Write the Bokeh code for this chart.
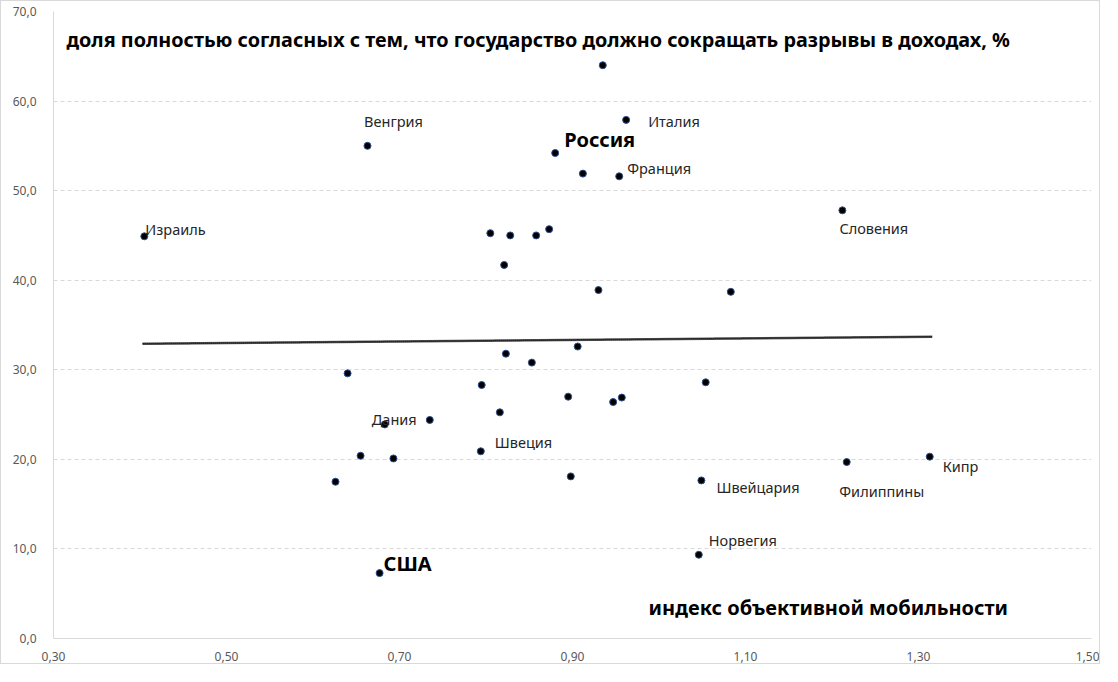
from bokeh.plotting import figure
from bokeh.models import ColumnDataSource, FixedTicker, Label, Range1d
from bokeh.core.properties import value
from bokeh.embed import file_html
from bokeh.resources import INLINE

# ---------------- data ----------------
mobility = [0.405, 0.663, 0.935, 0.962, 0.880, 0.912, 0.954, 1.212,
            0.805, 0.828, 0.858, 0.873, 0.821, 0.930, 1.083, 0.823,
            0.853, 0.906, 0.795, 1.054, 0.895, 0.947, 0.957, 0.816,
            0.735, 0.640, 0.683, 0.655, 0.693, 0.794, 0.626, 0.677,
            0.898, 1.049, 1.217, 1.313, 1.046]
agree = [44.9, 55.0, 64.0, 57.9, 54.2, 51.9, 51.6, 47.8,
         45.25, 45.0, 45.0, 45.7, 41.7, 38.9, 38.7, 31.8,
         30.8, 32.6, 28.3, 28.6, 27.0, 26.4, 26.9, 25.25,
         24.4, 29.6, 23.9, 20.4, 20.1, 20.9, 17.5, 7.3,
         18.1, 17.65, 19.7, 20.3, 9.35]
country = ["Израиль", "Венгрия", "", "Италия", "Россия", "", "Франция", "Словения",
           "", "", "", "", "", "", "", "",
           "", "", "", "", "", "", "", "",
           "", "", "Дания", "", "", "Швеция", "", "США",
           "", "Швейцария", "Филиппины", "Кипр", "Норвегия"]

trend_x = [0.403, 1.316]
trend_y = [32.9, 33.7]

x_ticks = [0.30, 0.50, 0.70, 0.90, 1.10, 1.30, 1.50]
x_tick_labels = ["0,30", "0,50", "0,70", "0,90", "1,10", "1,30", "1,50"]
y_ticks = [0, 10, 20, 30, 40, 50, 60, 70]
y_tick_labels = ["0,0", "10,0", "20,0", "30,0", "40,0", "50,0", "60,0", "70,0"]

title_text = "доля полностью согласных с тем, что государство должно сокращать разрывы в доходах, %"
xaxis_text = "индекс объективной мобильности"

# ---------------- label styling (offsets in px) ----------------
label_style = {
    "Израиль":   dict(dx=1,  dy=-7,  align="left",   bold=False),
    "Венгрия":   dict(dx=26, dy=-25, align="center", bold=False),
    "Россия":    dict(dx=9,  dy=-14, align="left",   bold=True),
    "Италия":    dict(dx=22, dy=1,   align="left",   bold=False),
    "Франция":   dict(dx=8,  dy=-8,  align="left",   bold=False),
    "Словения":  dict(dx=-3, dy=18,  align="left",   bold=False),
    "Дания":     dict(dx=-13, dy=-5, align="left",   bold=False),
    "Швеция":    dict(dx=14, dy=-9,  align="left",   bold=False),
    "США":       dict(dx=4,  dy=-10, align="left",   bold=True),
    "Швейцария": dict(dx=15, dy=7,   align="left",   bold=False),
    "Филиппины": dict(dx=35, dy=29,  align="center", bold=False),
    "Кипр":      dict(dx=13, dy=9,   align="left",   bold=False),
    "Норвегия":  dict(dx=10, dy=-15, align="left",   bold=False),
}

FONT = "Noto Sans"

p = figure(width=1100, height=664, output_backend="svg", toolbar_location=None,
           x_range=Range1d(0.30, 1.50), y_range=Range1d(0, 70),
           min_border_left=52, min_border_right=10, min_border_top=10,
           min_border_bottom=27)
p.styles = {"border": "1px solid #d9d9d9"}
p.outline_line_color = None
p.background_fill_color = "white"
p.border_fill_color = "white"

# grid
p.xgrid.visible = False
p.ygrid.grid_line_color = "#d9d9d9"
p.ygrid.grid_line_dash = "4 3"
p.ygrid.ticker = FixedTicker(ticks=y_ticks)

# axes
for ax in (p.xaxis, p.yaxis):
    ax.axis_line_color = "#d9d9d9"
    ax.axis_line_width = 1
    ax.major_tick_line_color = None
    ax.minor_tick_line_color = None
    ax.major_label_text_color = "#595959"
    ax.major_label_text_font = FONT
    ax.major_label_text_font_size = "12px"
p.xaxis.ticker = FixedTicker(ticks=x_ticks)
p.xaxis.major_label_overrides = {t: l for t, l in zip(x_ticks, x_tick_labels)}
p.yaxis.ticker = FixedTicker(ticks=y_ticks)
p.yaxis.major_label_overrides = {t: l for t, l in zip(y_ticks, y_tick_labels)}
p.xaxis.major_label_standoff = 7
p.yaxis.major_label_standoff = 11

# trend line
p.line(trend_x, trend_y, line_color="#595959", line_width=2.5)
p.line(trend_x, trend_y, line_color="black", line_width=1.5, line_dash="1 1")

# points
src = ColumnDataSource(dict(x=mobility, y=agree))
p.scatter("x", "y", source=src, size=7, fill_color="black", line_color="#2f4f8f",
          line_width=1)

# country labels
for name, xv, yv in zip(country, mobility, agree):
    if not name:
        continue
    st = label_style[name]
    p.text([xv], [yv], text=[name], x_offset=st["dx"], y_offset=st["dy"],
           text_align=st["align"], text_baseline="middle",
           text_font=value(FONT),
           text_font_size="20px" if st["bold"] else "14.5px",
           text_font_style="bold" if st["bold"] else "normal",
           text_color="black" if st["bold"] else "#262626")

# title and axis title
p.add_layout(Label(x=0.315, y=66.9, text=title_text, text_font=FONT,
                   text_font_size="19.8px", text_font_style="bold",
                   text_baseline="middle", text_color="black"))
p.add_layout(Label(x=0.988, y=3.46, text=xaxis_text, text_font=FONT,
                   text_font_size="20px", text_font_style="bold",
                   text_baseline="middle", text_color="black"))

open("out.html", "w").write(file_html(p, INLINE))
